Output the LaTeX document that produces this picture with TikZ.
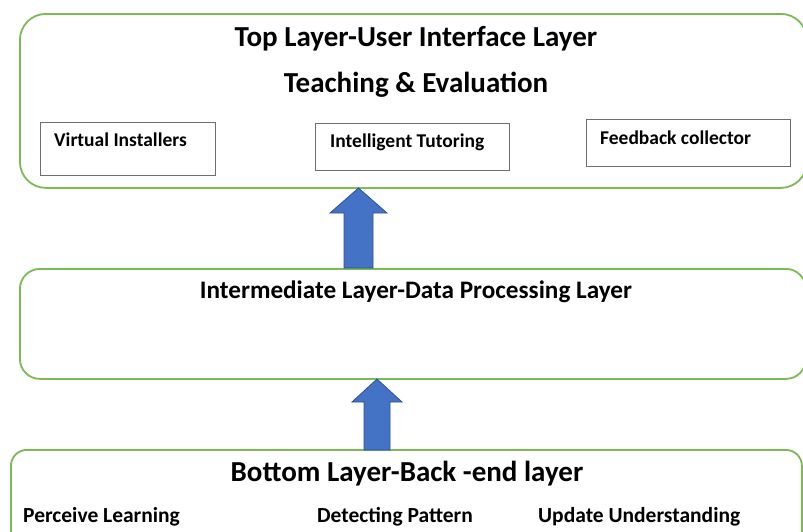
\documentclass[tikz,border=0pt]{standalone}
\usepackage{fontspec}
\setmainfont{Carlito}
\definecolor{layergreen}{HTML}{7DBA55}
\definecolor{boxgray}{HTML}{6E6E6E}
\definecolor{arrowblue}{HTML}{4472C4}
\definecolor{arrowedge}{HTML}{2F528F}
\begin{document}
\begin{tikzpicture}[x=1pt,y=-1pt,
  layer/.style={draw=layergreen, line width=1.8pt, fill=white, inner sep=0pt, anchor=north west},
  inbox/.style={draw=boxgray, line width=1.3pt, inner sep=0pt, anchor=north west},
  headtext/.style={font=\bfseries\fontsize{29}{33}\selectfont, anchor=base, inner sep=0pt},
  midtext/.style={font=\bfseries\fontsize{25.2}{30}\selectfont, anchor=base, inner sep=0pt},
  itemtext/.style={font=\bfseries\fontsize{21.5}{26}\selectfont, anchor=base west, inner sep=0pt},
  boxtext/.style={font=\bfseries\fontsize{19.5}{24}\selectfont, anchor=base west, inner sep=0pt},
  uparrow/.style={fill=arrowblue, draw=arrowedge, line width=0.8pt, line join=miter}
]
\useasboundingbox (0,0) rectangle (803,531);
\fill[white] (0,0) rectangle (803,531);
\begin{scope}
\clip (0,0) rectangle (803,531);

% three layers
\node[layer, rounded corners=26pt, minimum width=787pt, minimum height=174pt] (toplayer) at (19,13) {};
\node[layer, rounded corners=20pt, minimum width=786pt, minimum height=110pt] (midlayer) at (19,268) {};
\node[layer, rounded corners=16pt, minimum width=791pt, minimum height=100pt] (botlayer) at (10,449) {};

% top layer contents
\node[headtext] (toptitle) at (416,46) {Top Layer-User Interface Layer};
\node[headtext] (teach) at (416,92) {Teaching \& Evaluation};

\node[inbox, minimum width=175pt, minimum height=53pt] (vibox) at (40,122) {};
\node[inbox, minimum width=194pt, minimum height=47pt] (itbox) at (315,123) {};
\node[inbox, minimum width=204pt, minimum height=47pt] (fcbox) at (586,119) {};
\node[boxtext] (vitext) at (54,146) {Virtual Installers};
\node[boxtext] (ittext) at (330,147) {Intelligent Tutoring};
\node[boxtext] (fctext) at (600,144) {Feedback collector};

% intermediate layer
\node[midtext] (midtitle) at (416,298) {Intermediate Layer-Data Processing Layer};

% bottom layer
\node[headtext] (bottitle) at (407,481) {Bottom Layer-Back -end layer};
\node[itemtext] (perceive) at (23,522) {Perceive Learning};
\node[itemtext] (detect) at (317,522) {Detecting Pattern};
\node[itemtext] (update) at (538,522) {Update Understanding};

% block arrows between layers
\draw[uparrow] (344,268) -- (344,213) -- (330,213) -- (358.5,188) -- (387,213)
  -- (373,213) -- (373,268) -- cycle;
\draw[uparrow] (364,450) -- (364,402) -- (352,402) -- (377,379) -- (402,402)
  -- (390,402) -- (390,450) -- cycle;
\end{scope}
\end{tikzpicture}
\end{document}
